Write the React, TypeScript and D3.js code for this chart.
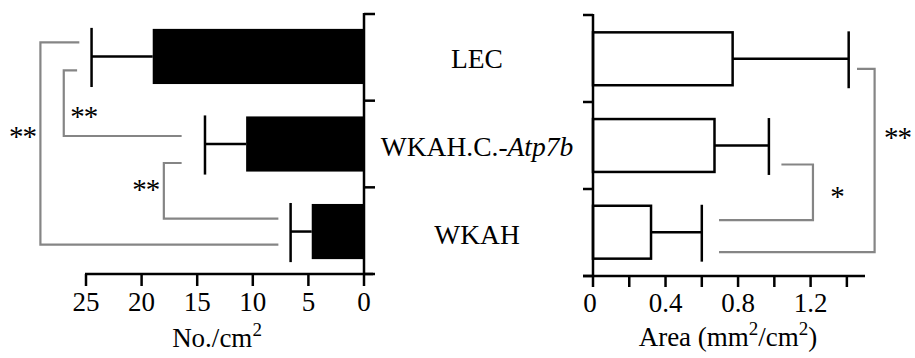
import React, { useEffect, useRef } from 'react';
import * as d3 from 'd3';

const categories = ['LEC', 'WKAH.C.-Atp7b', 'WKAH'];
// left panel: number per cm2 (mean and top of SD bar)
const countMean = [19.0, 10.6, 4.7];
const countTop = [24.5, 14.3, 6.6];
const countTicks = [25, 20, 15, 10, 5, 0];
// right panel: area mm2/cm2
const areaMean = [0.77, 0.67, 0.32];
const areaTop = [1.41, 0.97, 0.6];
const areaTicks = [0, 0.2, 0.4, 0.6, 0.8, 1.0, 1.2, 1.4];
const areaTickLabels = [0, 0.4, 0.8, 1.2];

// significance brackets (spine / arm ends in data units, arm offsets in px from band centre)
const countBrackets = [
  { a: 0, b: 2, spine: 29.1, topEnd: 25.6, botEnd: 7.7, dyA: -14, dyB: 13, label: '**', lx: -18, ly: -12 },
  { a: 0, b: 1, spine: 27.0, topEnd: 25.8, botEnd: 16.4, dyA: 14, dyB: -8, label: '**', lx: 20, ly: 9 },
  { a: 1, b: 2, spine: 18.0, topEnd: 16.4, botEnd: 7.7, dyA: 19, dyB: -13, label: '**', lx: -18, ly: -6 },
];
const areaBrackets = [
  { a: 1, b: 2, spine: 1.213, topEnd: 1.039, botEnd: 0.695, dyA: 19, dyB: -12, label: '*', lx: 24, ly: 0 },
  { a: 0, b: 2, spine: 1.553, topEnd: 1.456, botEnd: 0.695, dyA: 10, dyB: 20, label: '**', lx: 23, ly: -28 },
];

const FONT = "'Liberation Serif', 'Times New Roman', serif";

function App() {
  const ref = useRef<SVGSVGElement>(null);

  useEffect(() => {
    const svg = d3.select(ref.current);
    svg.selectAll('*').remove();
    const g = svg.append('g').style('font-family', FONT).attr('fill', '#000');

    // ---------- left panel ----------
    const xL = d3.scaleLinear().domain([0, 25]).range([364, 86]);
    const yL = d3.scaleBand().domain(categories).range([14, 274]).paddingInner(0.37).paddingOuter(0.17);
    const left = g.append('g');

    left.selectAll('rect.bar').data(categories).enter().append('rect')
      .attr('x', (d, i) => xL(countMean[i]))
      .attr('y', d => yL(d)!)
      .attr('width', (d, i) => xL(0) - xL(countMean[i]))
      .attr('height', yL.bandwidth())
      .attr('fill', '#000');

    categories.forEach((c, i) => {
      const cy = yL(c)! + yL.bandwidth() / 2;
      left.append('line').attr('x1', xL(countMean[i])).attr('x2', xL(countTop[i]))
        .attr('y1', cy).attr('y2', cy).attr('stroke', '#000').attr('stroke-width', 2.5);
      left.append('line').attr('x1', xL(countTop[i])).attr('x2', xL(countTop[i]))
        .attr('y1', yL(c)! - 1).attr('y2', yL(c)! + yL.bandwidth() + 3)
        .attr('stroke', '#000').attr('stroke-width', 2.5);
    });

    // y axis (right side of left panel)
    const [ly0, ly1] = yL.range();
    left.append('line').attr('x1', xL(0)).attr('x2', xL(0)).attr('y1', ly0 - 1).attr('y2', ly1)
      .attr('stroke', '#000').attr('stroke-width', 2.5);
    d3.range(4).forEach(k => {
      const yy = ly0 + k * (ly1 - ly0) / 3;
      left.append('line').attr('x1', xL(0)).attr('x2', xL(0) + 11).attr('y1', yy).attr('y2', yy)
        .attr('stroke', '#000').attr('stroke-width', 2.5);
    });

    // x axis
    left.append('line').attr('x1', xL(25) - 1).attr('x2', xL(0) + 9).attr('y1', ly1).attr('y2', ly1)
      .attr('stroke', '#000').attr('stroke-width', 2.5);
    countTicks.forEach(t => {
      left.append('line').attr('x1', xL(t)).attr('x2', xL(t)).attr('y1', ly1).attr('y2', ly1 + 12)
        .attr('stroke', '#000').attr('stroke-width', 2.5);
      left.append('text').attr('x', xL(t)).attr('y', 311).attr('text-anchor', 'middle')
        .attr('font-size', 27).text(String(t));
    });
    const tL = left.append('text').attr('x', 217).attr('y', 347).attr('text-anchor', 'middle').attr('font-size', 27);
    tL.append('tspan').text('No./cm');
    tL.append('tspan').attr('dy', -11).attr('font-size', 19).text('2');

    countBrackets.forEach(b => {
      const ya = yL(categories[b.a])! + yL.bandwidth() / 2 + b.dyA;
      const yb = yL(categories[b.b])! + yL.bandwidth() / 2 + b.dyB;
      const p = d3.path();
      p.moveTo(xL(b.topEnd), ya);
      p.lineTo(xL(b.spine), ya);
      p.lineTo(xL(b.spine), yb);
      p.lineTo(xL(b.botEnd), yb);
      left.append('path').attr('d', p.toString()).attr('fill', 'none')
        .attr('stroke', '#858585').attr('stroke-width', 2.2);
      left.append('text').attr('x', xL(b.spine) + b.lx).attr('y', (ya + yb) / 2 + b.ly + 14)
        .attr('text-anchor', 'middle').attr('font-size', 29).attr('letter-spacing', -1).text(b.label);
    });

    // ---------- category labels ----------
    categories.forEach(c => {
      const t = g.append('text').attr('x', 477).attr('y', yL(c)! + yL.bandwidth() / 2 + 12)
        .attr('text-anchor', 'middle').attr('font-size', 27.5);
      if (c.includes('-')) {
        const [a, b] = c.split('-');
        t.append('tspan').text(a + '-');
        t.append('tspan').attr('font-style', 'italic').text(b);
      } else t.text(c);
    });

    // ---------- right panel ----------
    const xR = d3.scaleLinear().domain([0, 1.5]).range([593, 865]);
    const yR = d3.scaleBand().domain(categories).range([15, 276]).paddingInner(0.39).paddingOuter(0.2);
    const right = g.append('g');

    right.selectAll('rect.bar').data(categories).enter().append('rect')
      .attr('x', xR(0))
      .attr('y', d => yR(d)!)
      .attr('width', (d, i) => xR(areaMean[i]) - xR(0))
      .attr('height', yR.bandwidth())
      .attr('fill', '#fff').attr('stroke', '#000').attr('stroke-width', 2.5);

    categories.forEach((c, i) => {
      const cy = yR(c)! + yR.bandwidth() / 2;
      right.append('line').attr('x1', xR(areaMean[i])).attr('x2', xR(areaTop[i]))
        .attr('y1', cy).attr('y2', cy).attr('stroke', '#000').attr('stroke-width', 2.5);
      right.append('line').attr('x1', xR(areaTop[i])).attr('x2', xR(areaTop[i]))
        .attr('y1', yR(c)! - 1).attr('y2', yR(c)! + yR.bandwidth() + 3)
        .attr('stroke', '#000').attr('stroke-width', 2.5);
    });

    const [ry0, ry1] = yR.range();
    right.append('line').attr('x1', xR(0)).attr('x2', xR(0)).attr('y1', ry0 - 1).attr('y2', ry1)
      .attr('stroke', '#000').attr('stroke-width', 2.5);
    d3.range(4).forEach(k => {
      const yy = ry0 + k * (ry1 - ry0) / 3;
      right.append('line').attr('x1', xR(0) - 10).attr('x2', xR(0)).attr('y1', yy).attr('y2', yy)
        .attr('stroke', '#000').attr('stroke-width', 2.5);
    });
    right.append('line').attr('x1', xR(0) - 10).attr('x2', xR(1.5)).attr('y1', ry1).attr('y2', ry1)
      .attr('stroke', '#000').attr('stroke-width', 2.5);
    areaTicks.forEach(t => {
      right.append('line').attr('x1', xR(t)).attr('x2', xR(t)).attr('y1', ry1).attr('y2', ry1 + 11)
        .attr('stroke', '#000').attr('stroke-width', 2.5);
    });
    areaTickLabels.forEach(t => {
      right.append('text').attr('x', xR(t) - (t === 0 ? 3 : 0)).attr('y', 312).attr('text-anchor', 'middle')
        .attr('font-size', 27).text(t === 0 ? '0' : d3.format('.1f')(t));
    });
    const tR = right.append('text').attr('x', 728).attr('y', 346).attr('text-anchor', 'middle').attr('font-size', 27);
    tR.append('tspan').text('Area (mm');
    tR.append('tspan').attr('dy', -11).attr('font-size', 19).text('2');
    tR.append('tspan').attr('dy', 11).text('/cm');
    tR.append('tspan').attr('dy', -11).attr('font-size', 19).text('2');
    tR.append('tspan').attr('dy', 11).text(')');

    areaBrackets.forEach(b => {
      const ya = yR(categories[b.a])! + yR.bandwidth() / 2 + b.dyA;
      const yb = yR(categories[b.b])! + yR.bandwidth() / 2 + b.dyB;
      const p = d3.path();
      p.moveTo(xR(b.topEnd), ya);
      p.lineTo(xR(b.spine), ya);
      p.lineTo(xR(b.spine), yb);
      p.lineTo(xR(b.botEnd), yb);
      right.append('path').attr('d', p.toString()).attr('fill', 'none')
        .attr('stroke', '#858585').attr('stroke-width', 2.2);
      right.append('text').attr('x', xR(b.spine) + b.lx).attr('y', (ya + yb) / 2 + b.ly + 14)
        .attr('text-anchor', 'middle').attr('font-size', 29).attr('letter-spacing', -1).text(b.label);
    });
  }, []);

  return (
    <div style={{ position: 'absolute', left: 0, top: 0 }}>
      <svg ref={ref} width={915} height={358} style={{ display: 'block', background: '#fff' }} />
    </div>
  );
}

export default App;
